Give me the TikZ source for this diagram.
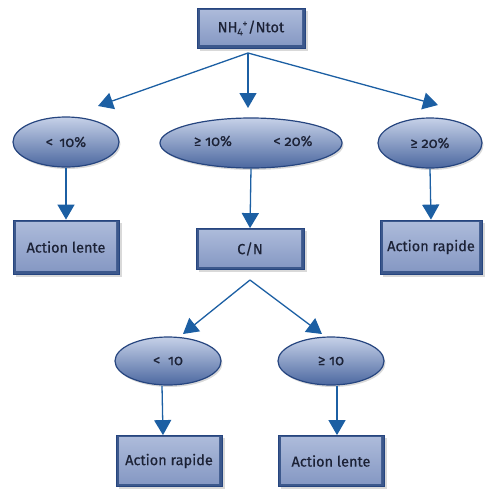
\documentclass[tikz,border=0pt]{standalone}
\usepackage{fontspec}
\setmainfont{Fira Sans}[Numbers=OldStyle,FakeBold=0.5]
\usetikzlibrary{arrows.meta,shadows,shapes.geometric}
\definecolor{bord}{HTML}{26457F}
\definecolor{arr}{HTML}{1C5FA3}
\definecolor{ftop}{HTML}{AEBCDB}
\definecolor{fbot}{HTML}{8396C2}
\definecolor{etop}{HTML}{C6D1E8}
\definecolor{emid}{HTML}{A0B1D5}
\definecolor{ebot}{HTML}{4C68A0}
\definecolor{txt}{HTML}{1C2236}
\tikzset{
  lbl/.style={text=txt, font=\fontsize{14.5}{16}\selectfont},
  boxn/.style={rectangle, fill=bord!90, draw=bord, line width=0.8pt, lbl, inner sep=0pt,
    drop shadow={shadow xshift=2.5pt,shadow yshift=-2.5pt,opacity=0.3},
    path picture={\shade[top color=ftop, bottom color=fbot]
      ([shift={(3pt,-2pt)}]path picture bounding box.north west) rectangle
      ([shift={(-3pt,3.5pt)}]path picture bounding box.south east);}},
  elln/.style={ellipse, draw=bord, line width=1.2pt, lbl, inner sep=0pt,
    top color=etop, middle color=emid, bottom color=ebot,
    drop shadow={shadow xshift=1.5pt,shadow yshift=-2pt,opacity=0.3}},
  conn/.style={draw=arr, line width=1.3pt, -{Triangle[width=17pt,length=15pt]}, arr}
}
\begin{document}
\begin{tikzpicture}[x=1pt,y=-1pt]
\useasboundingbox (0,0) rectangle (485,491);
% nodes
\node[boxn, minimum width=108pt, minimum height=40pt] (top) at (251,28) {NH\textsubscript{4}\kern-0.5pt\textsuperscript{+}/Ntot};
\node[elln, minimum width=106pt, minimum height=50pt] (e1) at (66,142) {<\ \,10\%};
\node[elln, minimum width=182pt, minimum height=50pt] (e2) at (251,143) {};
\node[lbl] (e2a) at (213,141) {≥ 10\%};
\node[lbl] (e2b) at (293,141) {< 20\%};
\node[elln, minimum width=104pt, minimum height=50pt] (e3) at (430,143) {≥ 20\%};
\node[boxn, minimum width=106pt, minimum height=54pt] (b1) at (66,247) {Action lente};
\node[boxn, minimum width=108pt, minimum height=41pt] (cn) at (250,249) {C/N};
\node[boxn, minimum width=102pt, minimum height=54pt] (b3) at (431,247) {Action rapide};
\node[elln, minimum width=106pt, minimum height=48pt] (f1) at (168,361) {<\ \ 10};
\node[elln, minimum width=106pt, minimum height=48pt] (f2) at (331,361) {≥ 10};
\node[boxn, minimum width=106pt, minimum height=51pt] (g1) at (169,461) {Action rapide};
\node[boxn, minimum width=106pt, minimum height=51pt] (g2) at (331,461) {Action lente};
% arrow end points
\coordinate (t0) at (248,53);
\coordinate (a1) at (98,106);
\coordinate (a2) at (248,108);
\coordinate (a3) at (438,105);
\coordinate (c0) at (250,280);
\coordinate (c1) at (183,334);
\coordinate (c2) at (322,334);
% connectors
\draw[conn] (t0) -- (a1);
\draw[conn] (t0) -- (a2);
\draw[conn] (t0) -- (a3);
\draw[conn] (e1.south) -- (b1.north);
\draw[conn] (e2.south) -- (cn.north);
\draw[conn] (e3.south) -- (b3.north);
\draw[conn] (c0) -- (c1);
\draw[conn] (c0) -- (c2);
\draw[conn] ([xshift=-6pt]f1.south) -- ([xshift=-6pt]g1.north);
\draw[conn] ([xshift=6pt]f2.south) -- ([xshift=6pt]g2.north);
\end{tikzpicture}
\end{document}
